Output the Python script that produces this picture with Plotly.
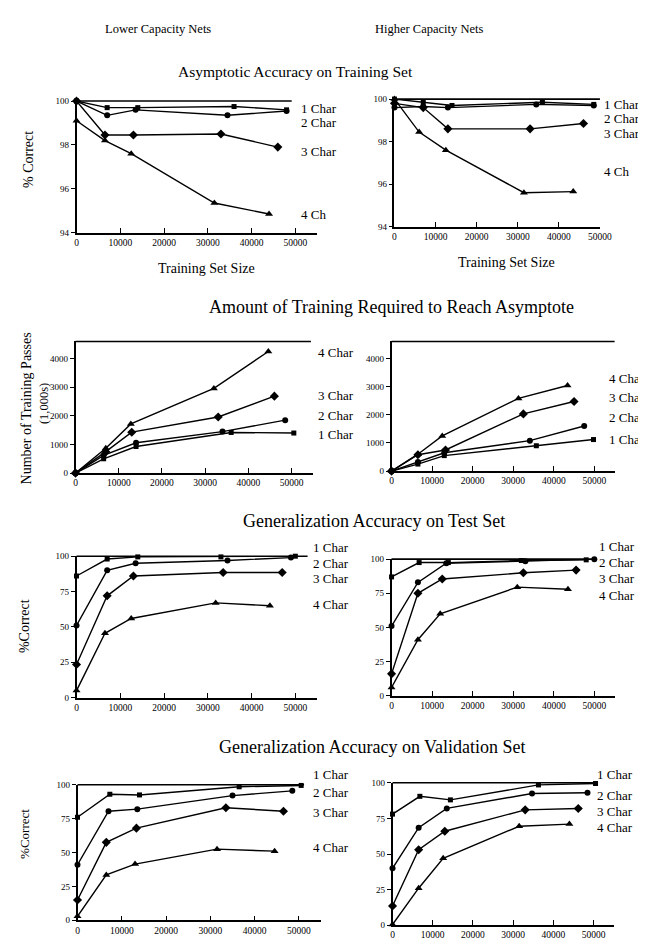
import plotly.graph_objects as go

W, H = 646, 946

# ---------------- DATA ----------------
x_ticks = [0, 10000, 20000, 30000, 40000, 50000]
x_tick_labels = ["0", "10000", "20000", "30000", "40000", "50000"]
acc_train_ticks = [94, 96, 98, 100]
passes_ticks = [0, 1000, 2000, 3000, 4000]
pct_ticks = [0, 25, 50, 75, 100]
series_names = ["1 Char", "2 Char", "3 Char", "4 Char"]

# Asymptotic accuracy on training set - lower capacity
lo_train_1c_x = [0, 7000, 14000, 36000, 48000]
lo_train_1c_y = [100, 99.7, 99.7, 99.75, 99.6]
lo_train_2c_x = [0, 7000, 13500, 34500, 48000]
lo_train_2c_y = [100, 99.35, 99.6, 99.35, 99.55]
lo_train_3c_x = [0, 6500, 13000, 33000, 46000]
lo_train_3c_y = [100, 98.45, 98.45, 98.5, 97.9]
lo_train_4c_x = [0, 6500, 12500, 31500, 44000]
lo_train_4c_y = [99.1, 98.2, 97.6, 95.35, 94.85]

# Asymptotic accuracy on training set - higher capacity
hi_train_1c_x = [0, 7000, 14000, 36000, 48500]
hi_train_1c_y = [100, 99.85, 99.7, 99.85, 99.75]
hi_train_2c_x = [0, 7000, 13000, 34500, 48500]
hi_train_2c_y = [99.6, 99.65, 99.6, 99.75, 99.7]
hi_train_3c_x = [0, 7000, 13000, 33000, 46000]
hi_train_3c_y = [99.8, 99.6, 98.6, 98.6, 98.85]
hi_train_4c_x = [0, 6000, 12500, 31500, 43500]
hi_train_4c_y = [100, 98.45, 97.6, 95.6, 95.65]

# Training passes (1,000s) - lower capacity
lo_pass_1c_x = [0, 6500, 14000, 36000, 50500]
lo_pass_1c_y = [0, 500, 930, 1420, 1400]
lo_pass_2c_x = [0, 6500, 14000, 34000, 48500]
lo_pass_2c_y = [0, 620, 1060, 1450, 1850]
lo_pass_3c_x = [0, 7000, 13000, 33000, 46000]
lo_pass_3c_y = [0, 750, 1430, 1960, 2690]
lo_pass_4c_x = [0, 7000, 12800, 32000, 44600]
lo_pass_4c_y = [0, 870, 1720, 2960, 4250]

# Training passes (1,000s) - higher capacity
hi_pass_1c_x = [0, 6500, 13000, 35700, 49800]
hi_pass_1c_y = [0, 250, 550, 900, 1120]
hi_pass_2c_x = [0, 6500, 13000, 34100, 47500]
hi_pass_2c_y = [0, 320, 650, 1080, 1600]
hi_pass_3c_x = [0, 6500, 13300, 32500, 45000]
hi_pass_3c_y = [0, 580, 750, 2030, 2470]
hi_pass_4c_x = [0, 6500, 12500, 31300, 43400]
hi_pass_4c_y = [0, 600, 1250, 2580, 3040]

# Generalization accuracy on test set - lower capacity
lo_test_1c_x = [0, 7000, 14000, 33000, 50000]
lo_test_1c_y = [86, 98, 99.5, 99.5, 100]
lo_test_2c_x = [0, 7000, 13500, 34500, 49000]
lo_test_2c_y = [51, 90, 95, 97, 99]
lo_test_3c_x = [0, 7000, 13000, 33500, 47000]
lo_test_3c_y = [23.5, 72, 86, 88.5, 88.5]
lo_test_4c_x = [0, 6500, 12500, 31800, 44200]
lo_test_4c_y = [5, 45.5, 56, 67, 65]

# Generalization accuracy on test set - higher capacity
hi_test_1c_x = [0, 6800, 14000, 32000, 48000]
hi_test_1c_y = [87, 97.5, 97.5, 99, 99.5]
hi_test_2c_x = [0, 6500, 13500, 33000, 50000]
hi_test_2c_y = [51, 83, 97, 98.5, 100]
hi_test_3c_x = [0, 6500, 12500, 32500, 45500]
hi_test_3c_y = [16, 75, 85.5, 90, 92]
hi_test_4c_x = [0, 6500, 12000, 31000, 43500]
hi_test_4c_y = [6, 41, 60, 79.5, 78]

# Generalization accuracy on validation set - lower capacity
lo_val_1c_x = [0, 7300, 14000, 36500, 50500]
lo_val_1c_y = [76, 93, 92.5, 98.5, 99.5]
lo_val_2c_x = [0, 7000, 13500, 35000, 48500]
lo_val_2c_y = [41, 80.5, 82, 92, 95.5]
lo_val_3c_x = [0, 6500, 13300, 33500, 46500]
lo_val_3c_y = [15, 57.5, 68, 83, 80.5]
lo_val_4c_x = [0, 6500, 13000, 31500, 44500]
lo_val_4c_y = [3, 33.5, 41.5, 52.5, 51]

# Generalization accuracy on validation set - higher capacity
hi_val_1c_x = [0, 6800, 14400, 36300, 50500]
hi_val_1c_y = [78, 90.5, 88, 98.5, 99.5]
hi_val_2c_x = [0, 6500, 13500, 34700, 48500]
hi_val_2c_y = [40, 68.5, 82, 92.5, 93]
hi_val_3c_x = [0, 6500, 13000, 33000, 46200]
hi_val_3c_y = [13.5, 53, 66, 81, 82]
hi_val_4c_x = [0, 6500, 12600, 31500, 44000]
hi_val_4c_y = [0.5, 26, 47, 69.5, 71]

panel_data = [
    [(lo_train_1c_x, lo_train_1c_y), (lo_train_2c_x, lo_train_2c_y), (lo_train_3c_x, lo_train_3c_y), (lo_train_4c_x, lo_train_4c_y)],
    [(hi_train_1c_x, hi_train_1c_y), (hi_train_2c_x, hi_train_2c_y), (hi_train_3c_x, hi_train_3c_y), (hi_train_4c_x, hi_train_4c_y)],
    [(lo_pass_1c_x, lo_pass_1c_y), (lo_pass_2c_x, lo_pass_2c_y), (lo_pass_3c_x, lo_pass_3c_y), (lo_pass_4c_x, lo_pass_4c_y)],
    [(hi_pass_1c_x, hi_pass_1c_y), (hi_pass_2c_x, hi_pass_2c_y), (hi_pass_3c_x, hi_pass_3c_y), (hi_pass_4c_x, hi_pass_4c_y)],
    [(lo_test_1c_x, lo_test_1c_y), (lo_test_2c_x, lo_test_2c_y), (lo_test_3c_x, lo_test_3c_y), (lo_test_4c_x, lo_test_4c_y)],
    [(hi_test_1c_x, hi_test_1c_y), (hi_test_2c_x, hi_test_2c_y), (hi_test_3c_x, hi_test_3c_y), (hi_test_4c_x, hi_test_4c_y)],
    [(lo_val_1c_x, lo_val_1c_y), (lo_val_2c_x, lo_val_2c_y), (lo_val_3c_x, lo_val_3c_y), (lo_val_4c_x, lo_val_4c_y)],
    [(hi_val_1c_x, hi_val_1c_y), (hi_val_2c_x, hi_val_2c_y), (hi_val_3c_x, hi_val_3c_y), (hi_val_4c_x, hi_val_4c_y)],
]

# ---------------- LAYOUT (pixels) ----------------
def px(x):
    return x / W

def py(y):
    return 1 - y / H

# x0, x1, ytop, ybot, xmax, yrange, yticks, top-line fraction, label x, label ys, label texts
panels = [
    (68, 314, 89, 222, 55000, [94, 100], acc_train_ticks, 0.894, 295, [97, 111, 140, 204], ["1 Char", "2 Char", "3 Char", "4 Ch"]),
    (393, 603, 87, 216, 50000, [94, 100], acc_train_ticks, 1.0, 605, [92, 107, 122, 160], ["1 Char", "2 Char", "3 Char", "4 Ch"]),
    (67, 310, 332, 465, 55000, [0, 4600], passes_ticks, 0.99, 313, [426, 407, 387, 343], series_names),
    (390, 618, 332, 463, 55000, [0, 4600], passes_ticks, 1.0, 610, [431, 409, 389, 369], series_names),
    (68, 314, 549, 692, 55000, [0, 100], pct_ticks, 0.96, 308, [540, 556, 572, 598], series_names),
    (390, 618, 552, 690, 55000, [0, 100], pct_ticks, 0.92, 600, [539, 555, 572, 589], series_names),
    (69, 318, 780, 917, 55000, [0, 100], pct_ticks, 0.93, 308, [770, 788, 808, 843], series_names),
    (391, 617, 778, 922, 55000, [0, 100], pct_ticks, 0.92, 598, [770, 791, 807, 823], series_names),
]

symbols = ["square", "circle", "diamond", "triangle-up"]
sizes = [5, 6, 7, 7]
SERIF = "Liberation Serif"

fig = go.Figure()
layout = dict(
    width=W, height=H, margin=dict(l=0, r=0, t=0, b=0),
    paper_bgcolor="white", plot_bgcolor="white", showlegend=False,
    font=dict(family=SERIF, color="black"),
)
annotations = []
shapes = []

for i, (x0, x1, yt, yb, xmax, yr, yt_vals, topfrac, lx, lys, ltexts) in enumerate(panels):
    n = i + 1
    xa = "xaxis" if n == 1 else f"xaxis{n}"
    ya = "yaxis" if n == 1 else f"yaxis{n}"
    xref = "x" if n == 1 else f"x{n}"
    yref = "y" if n == 1 else f"y{n}"
    layout[xa] = dict(
        domain=[px(x0), px(x1)], range=[0, xmax], anchor=yref,
        tickvals=x_ticks, ticktext=x_tick_labels, ticks="inside", ticklen=5,
        tickwidth=1.3, tickcolor="black", showline=True, linewidth=1.6, linecolor="black",
        showgrid=False, zeroline=False, tickfont=dict(size=9.5, family=SERIF, color="black"),
        fixedrange=True,
    )
    layout[ya] = dict(
        domain=[py(yb), py(yt)], range=yr, anchor=xref,
        tickvals=yt_vals, ticks="outside", ticklen=4, tickwidth=1.3, tickcolor="black",
        showline=True, linewidth=1.6, linecolor="black", showgrid=False, zeroline=False,
        tickfont=dict(size=9, family=SERIF, color="black"), fixedrange=True,
    )
    shapes.append(dict(type="line", xref=f"{xref} domain", yref=f"{yref} domain",
                       x0=0, x1=topfrac, y0=1, y1=1, line=dict(color="black", width=1.6)))
    for s, (sx, sy) in enumerate(panel_data[i]):
        fig.add_trace(go.Scatter(
            x=sx, y=sy, xaxis=xref, yaxis=yref, mode="lines+markers",
            name=series_names[s], cliponaxis=False,
            line=dict(color="black", width=1.4),
            marker=dict(symbol=symbols[s], size=sizes[s], color="black"),
        ))
    for t, ly in zip(ltexts, lys):
        annotations.append(dict(text=t, x=px(lx), y=py(ly), xref="paper", yref="paper",
                                xanchor="left", yanchor="middle", showarrow=False,
                                font=dict(size=13, family=SERIF, color="black")))

def text(t, x, y, size, angle=0, anchor="center"):
    annotations.append(dict(text=t, x=px(x), y=py(y), xref="paper", yref="paper",
                            xanchor=anchor, yanchor="middle", showarrow=False, textangle=angle,
                            font=dict(size=size, family=SERIF, color="black")))

text("Lower Capacity Nets", 151, 16, 12.5)
text("Higher Capacity Nets", 428, 16, 12.5)
text("Asymptotic Accuracy on Training Set", 292, 59, 15.5)
text("Amount of Training Required to Reach Asymptote", 390, 297, 18)
text("Generalization Accuracy on Test Set", 372, 513, 18)
text("Generalization Accuracy on Validation Set", 371, 742, 18)
text("Training Set Size", 201, 258, 14)
text("Training Set Size", 508, 252, 14)
text("% Correct", 19, 148, 14, angle=-90)
text("Number of Training Passes", 17, 400, 14, angle=-90)
text("(1,000s)", 35, 395, 12.5, angle=-90)
text("%Correct", 15, 620, 14, angle=-90)
text("%Correct", 15, 830, 13, angle=-90)

layout["annotations"] = annotations
layout["shapes"] = shapes
fig.update_layout(**layout)
fig.write_html("out.html")
